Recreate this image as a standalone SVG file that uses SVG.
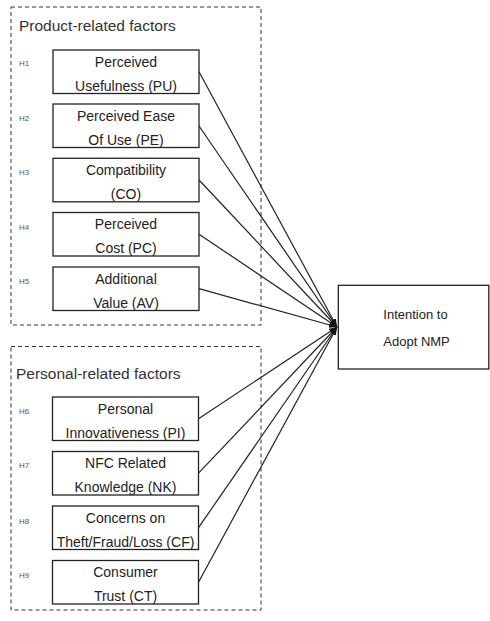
<svg xmlns="http://www.w3.org/2000/svg" width="490" height="621" viewBox="0 0 490 621">
<defs>
<style>
.grp{fill:none;stroke:#333;stroke-width:1;stroke-dasharray:4,3}
.box{fill:#fff;stroke:#222;stroke-width:1.3}
.t{font-family:"Liberation Sans",Arial,sans-serif;font-size:14px;fill:#222;text-anchor:middle}
.h{font-family:"Liberation Sans",Arial,sans-serif;font-size:8px;fill:#555}
.ttl{font-family:"Liberation Sans",Arial,sans-serif;font-size:15.5px;fill:#333}
.tg{font-family:"Liberation Sans",Arial,sans-serif;font-size:13px;fill:#222}
.c{stroke:#222;stroke-width:1.2;fill:none;marker-end:url(#ah)}
</style>
<marker id="ah" markerUnits="userSpaceOnUse" markerWidth="8" markerHeight="6" refX="8" refY="3" orient="auto">
<path d="M0,0 L8,3 L0,6 z" fill="#111"/>
</marker>
</defs>
<rect width="490" height="621" fill="#fff"/>
<g id="product-group">
<rect class="grp" x="11" y="7" width="250" height="318"/>
<text class="ttl" x="19" y="31">Product-related factors</text>
</g>
<g id="personal-group">
<rect class="grp" x="11" y="346.5" width="250" height="263.5"/>
<text class="ttl" x="16" y="379">Personal-related factors</text>
</g>
<g id="connectors">
<line class="c" x1="199" y1="71.7" x2="337" y2="327"/>
<line class="c" x1="199" y1="126" x2="337" y2="327"/>
<line class="c" x1="199" y1="180" x2="337" y2="327"/>
<line class="c" x1="199" y1="234.2" x2="337" y2="327"/>
<line class="c" x1="199" y1="288.7" x2="337" y2="327"/>
<line class="c" x1="198.5" y1="418.7" x2="337" y2="327"/>
<line class="c" x1="198.5" y1="473.2" x2="337" y2="327"/>
<line class="c" x1="198.5" y1="527.7" x2="337" y2="327"/>
<line class="c" x1="198.5" y1="582.2" x2="337" y2="327"/>
</g>
<g id="PU">
<text class="h" x="19" y="66">H1</text>
<rect class="box" x="53" y="50" width="146" height="43.5"/>
<text class="t" x="126" y="66.7">Perceived</text>
<text class="t" x="126" y="90.7">Usefulness (PU)</text>
</g>
<g id="PE">
<text class="h" x="19" y="120.5">H2</text>
<rect class="box" x="53" y="104" width="146" height="43.5"/>
<text class="t" x="126" y="120.7">Perceived Ease</text>
<text class="t" x="126" y="144.7">Of Use (PE)</text>
</g>
<g id="CO">
<text class="h" x="19" y="175">H3</text>
<rect class="box" x="53" y="158.3" width="146" height="43.5"/>
<text class="t" x="126" y="175">Compatibility</text>
<text class="t" x="126" y="199">(CO)</text>
</g>
<g id="PC">
<text class="h" x="19" y="230">H4</text>
<rect class="box" x="53" y="212.5" width="146" height="43.5"/>
<text class="t" x="126" y="229.2">Perceived</text>
<text class="t" x="126" y="253.2">Cost (PC)</text>
</g>
<g id="AV">
<text class="h" x="19" y="284">H5</text>
<rect class="box" x="53" y="267" width="146" height="43.5"/>
<text class="t" x="126" y="283.7">Additional</text>
<text class="t" x="126" y="307.7">Value (AV)</text>
</g>
<g id="PI">
<text class="h" x="19" y="414">H6</text>
<rect class="box" x="52.5" y="397" width="146" height="43.5"/>
<text class="t" x="125.5" y="413.7">Personal</text>
<text class="t" x="125.5" y="437.7">Innovativeness (PI)</text>
</g>
<g id="NK">
<text class="h" x="19" y="468">H7</text>
<rect class="box" x="52.5" y="451.5" width="146" height="43.5"/>
<text class="t" x="125.5" y="468.2">NFC Related</text>
<text class="t" x="125.5" y="492.2">Knowledge (NK)</text>
</g>
<g id="CF">
<text class="h" x="19" y="524">H8</text>
<rect class="box" x="52.5" y="506" width="146" height="43.5"/>
<text class="t" x="125.5" y="522.7">Concerns on</text>
<text class="t" x="125.5" y="546.7">Theft/Fraud/Loss (CF)</text>
</g>
<g id="CT">
<text class="h" x="19" y="578">H9</text>
<rect class="box" x="52.5" y="560.5" width="146" height="43.5"/>
<text class="t" x="125.5" y="577.2">Consumer</text>
<text class="t" x="125.5" y="601.2">Trust (CT)</text>
</g>
<g id="INT">
<rect class="box" x="338.3" y="285.3" width="150.5" height="83.7"/>
<text class="tg" x="383.3" y="319.3">Intention to</text>
<text class="tg" x="383.3" y="346">Adopt NMP</text>
</g>
</svg>
